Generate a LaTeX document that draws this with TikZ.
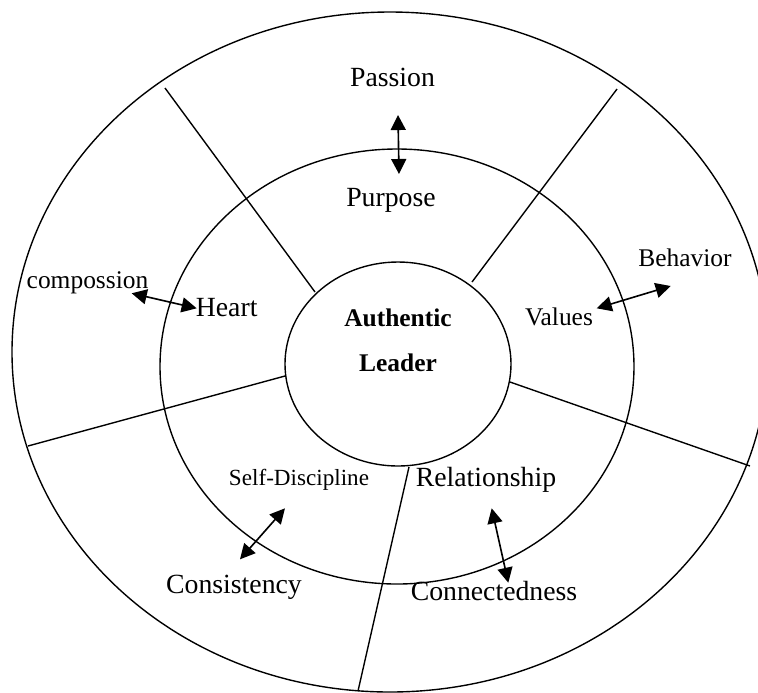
\documentclass[tikz,border=0pt]{standalone}
\usepackage{fontspec}
\setmainfont{Liberation Serif}
\usetikzlibrary{arrows.meta}

\begin{document}
\begin{tikzpicture}[x=0.0152cm,y=-0.0152cm,
    ring/.style={line width=0.6pt},
    spoke/.style={line width=0.6pt},
    word/.style={anchor=base,inner sep=0pt,font=\fontsize{12}{14}\selectfont},
    smallword/.style={word,font=\fontsize{11}{13}\selectfont},
    link/.style={line width=0.7pt,{Triangle[length=6.5pt,width=6.5pt]}-{Triangle[length=6.5pt,width=6.5pt]}}]
  \useasboundingbox (0,0) rectangle (758,692);
  %
  % Rings
  \draw[ring] (390,352) ellipse [x radius=378, y radius=340];
  \draw[ring] (397,366.5) ellipse [x radius=237, y radius=217.5];
  \draw[ring] (398,364) ellipse [x radius=113, y radius=102];
  %
  % Spokes between the inner and the outer ring
  \draw[spoke] (315,292) -- (165,88);
  \draw[spoke] (472,282) -- (617,89);
  \draw[spoke] (510,382) -- (750,466);
  \draw[spoke] (409,467) -- (358,691);
  \draw[spoke] (285,376) -- (28,446);
  %
  % Centre
  \node[align=center,inner sep=0pt,
        font=\bfseries\fontsize{11}{19.3}\selectfont] (leader) at (398,340)
    {Authentic\\Leader};
  %
  % Labels
  \node[word] (passion) at (392.5,86.7) {Passion};
  \node[word] (purpose) at (391,206) {Purpose};
  \node[smallword] (compossion) at (87.5,288.3) {compossion};
  \node[word] (heart) at (226.7,316) {Heart};
  \node[smallword] (behavior) at (685,266) {Behavior};
  \node[smallword] (values) at (559,325) {Values};
  \node[word,font=\fontsize{10}{12}\selectfont] (selfdiscipline) at (299,485) {Self-Discipline};
  \node[word] (consistency) at (234,593) {Consistency};
  \node[word] (relationship) at (486,486.7) {Relationship};
  \node[word] (connectedness) at (494,600) {Connectedness};
  %
  % Arrow ends
  \coordinate (passion-end) at (398,115);
  \coordinate (purpose-end) at (399,174);
  \coordinate (compossion-end) at (131.7,293.3);
  \coordinate (heart-end) at (196.7,308.3);
  \coordinate (values-end) at (596.7,308.3);
  \coordinate (behavior-end) at (670.7,286);
  \coordinate (selfdiscipline-end) at (285,508.3);
  \coordinate (consistency-end) at (240,559.3);
  \coordinate (relationship-end) at (491.7,508.3);
  \coordinate (connectedness-end) at (508.3,582.7);
  %
  % Arrows
  \draw[link] (passion-end) -- (purpose-end);
  \draw[link] (compossion-end) -- (heart-end);
  \draw[link] (values-end) -- (behavior-end);
  \draw[link] (selfdiscipline-end) -- (consistency-end);
  \draw[link] (relationship-end) -- (connectedness-end);
  %
\end{tikzpicture}
\end{document}
